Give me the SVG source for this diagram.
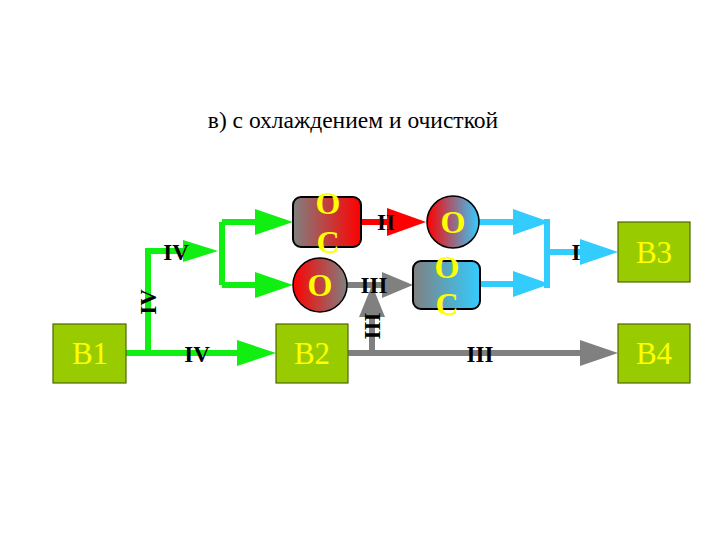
<svg xmlns="http://www.w3.org/2000/svg" width="720" height="540" viewBox="0 0 720 540">
<defs>
<linearGradient id="gGR" x1="0" y1="0" x2="1" y2="0"><stop offset="0" stop-color="#808080"/><stop offset="1" stop-color="#ff0000"/></linearGradient>
<linearGradient id="gRG" x1="0" y1="0" x2="1" y2="0"><stop offset="0" stop-color="#ff0000"/><stop offset="1" stop-color="#808080"/></linearGradient>
<linearGradient id="gRB" x1="0" y1="0" x2="1" y2="0"><stop offset="0" stop-color="#ff0000"/><stop offset="1" stop-color="#33ccff"/></linearGradient>
<linearGradient id="gGB" x1="0" y1="0" x2="1" y2="0"><stop offset="0" stop-color="#808080"/><stop offset="1" stop-color="#33ccff"/></linearGradient>
</defs>
<style>
.b{fill:#99cc00;stroke:#4d6600;stroke-width:1.2}
.bt{font-family:"Liberation Serif",serif;font-size:31px;fill:#ffff00;text-anchor:middle}
.ot{font-family:"Liberation Serif",serif;font-size:32px;font-weight:bold;fill:#ffff00;text-anchor:middle}
.lb{font-family:"Liberation Serif",serif;font-size:23px;font-weight:bold;fill:#000;text-anchor:middle}
.gl{stroke:#11ee11;stroke-width:6;fill:none}
.gf{fill:#11ee11}
.yl{stroke:#808080;stroke-width:6;fill:none}
.yf{fill:#808080}
.bl{stroke:#33ccff;stroke-width:6;fill:none}
.bf{fill:#33ccff}
.rl{stroke:#ff0000;stroke-width:6;fill:none}
.rf{fill:#ff0000}
</style>
<rect width="720" height="540" fill="#fff"/>
<text x="353" y="128" font-family="Liberation Serif,serif" font-size="23.5" text-anchor="middle" fill="#000">в) с охлаждением и очисткой</text>
<g id="connectors">
<path class="gl" d="M126 353H240M148 353V251H186M222 222V285M222 222H258M222 285H258"/>
<polygon class="gf" points="237,340 276,353 237,366"/>
<polygon class="gf" points="183,240 218,251 183,262"/>
<polygon class="gf" points="255,209 293,222 255,235"/>
<polygon class="gf" points="255,272 293,285 255,298"/>
<path class="rl" d="M361 222H390"/>
<polygon class="rf" points="387,208 426,222 387,236"/>
<path class="yl" d="M348 353H583M372 353V315M347 285H385"/>
<polygon class="yf" points="580,340 618,353 580,366"/>
<polygon class="yf" points="382,272 413,285 382,298"/>
<polygon class="yf" points="359,317 372,285 385,317"/>
<path class="bl" d="M479 222H516M480 284H516M547 219V288M547 252H583"/>
<polygon class="bf" points="513,209 550,222 513,235"/>
<polygon class="bf" points="513,271 550,284 513,297"/>
<polygon class="bf" points="580,239 618,252 580,265"/>
<text class="lb" x="176" y="260">IV</text>
<text class="lb" transform="translate(148,302) rotate(-90)" y="7.5">IV</text>
<text class="lb" x="197" y="362">IV</text>
<text class="lb" x="480" y="362">III</text>
<text class="lb" x="386" y="230">II</text>
<text class="lb" x="374" y="293">III</text>
<text class="lb" transform="translate(372,326) rotate(90)" y="7.5">III</text>
<text class="lb" x="576" y="260">I</text>
</g>
<g id="B1"><rect class="b" x="53" y="324" width="73" height="59"/><text class="bt" x="90" y="364">B1</text></g>
<g id="B2"><rect class="b" x="276" y="324" width="72" height="59"/><text class="bt" x="312" y="364">B2</text></g>
<g id="B3"><rect class="b" x="618" y="222" width="72" height="60"/><text class="bt" x="654" y="263">B3</text></g>
<g id="B4"><rect class="b" x="618" y="324" width="72" height="59"/><text class="bt" x="654" y="364">B4</text></g>
<g id="OC1"><rect x="293" y="197" width="68" height="50" rx="8" fill="url(#gGR)" stroke="#000" stroke-width="2"/><text class="ot" x="328" y="214">О</text><text class="ot" x="328" y="253">С</text></g>
<g id="O1"><circle cx="320" cy="285" r="27" fill="url(#gRG)" stroke="#000" stroke-width="1.5"/><text class="ot" x="320" y="296">О</text></g>
<g id="O2"><circle cx="453" cy="222" r="26" fill="url(#gRB)" stroke="#000" stroke-width="1.5"/><text class="ot" x="453" y="233">О</text></g>
<g id="OC2"><rect x="413" y="261" width="67" height="48" rx="8" fill="url(#gGB)" stroke="#000" stroke-width="2"/><text class="ot" x="447" y="278">О</text><text class="ot" x="447" y="315">С</text></g>
</svg>
